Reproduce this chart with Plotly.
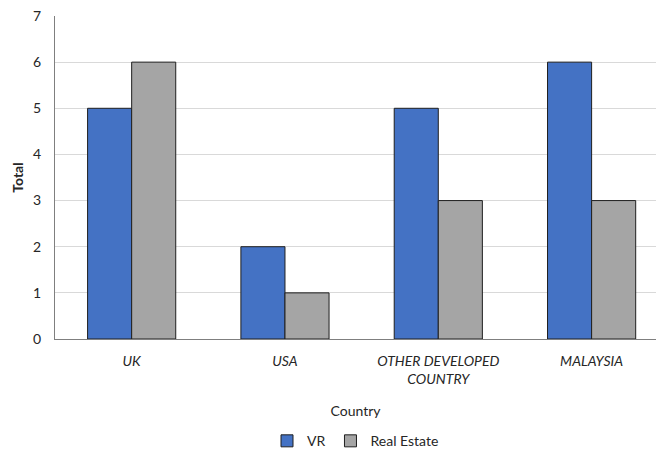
import plotly.graph_objects as go

categories = ["UK", "USA", "OTHER DEVELOPED<br>COUNTRY", "MALAYSIA"]
vr_values = [5, 2, 5, 6]
real_estate_values = [6, 1, 3, 3]

font_family = "Lato, 'Open Sans', sans-serif"

fig = go.Figure()
fig.add_trace(go.Bar(x=categories, y=vr_values, name="VR",
                     marker=dict(color="#4472C4", line=dict(color="#1f1f1f", width=1))))
fig.add_trace(go.Bar(x=categories, y=real_estate_values, name="Real Estate",
                     marker=dict(color="#A5A5A5", line=dict(color="#1f1f1f", width=1))))

fig.update_layout(
    width=656, height=454,
    margin=dict(l=55, r=0, t=16, b=115, autoexpand=False),
    paper_bgcolor="white", plot_bgcolor="white",
    barmode="group", bargap=0.425, bargroupgap=0,
    font=dict(family=font_family, size=14, color="#262626"),
    showlegend=True,
    legend=dict(orientation="h", x=0.5, xanchor="center", y=-0.267, yanchor="top",
                font=dict(size=14), itemwidth=30, tracegroupgap=0),
    xaxis=dict(
        range=[-0.5, 3.42],
        automargin=False,
        showline=True, linecolor="#7f7f7f", linewidth=1,
        tickfont=dict(size=14, style="italic"),
        ticks="outside", ticklen=9, tickcolor="rgba(0,0,0,0)",
        title=dict(text="Country", font=dict(size=14), standoff=20),
    ),
    yaxis=dict(
        range=[0, 7], dtick=1,
        automargin=False,
        showgrid=True, gridcolor="#d9d9d9", gridwidth=1,
        showline=True, linecolor="#7f7f7f", linewidth=1,
        zeroline=False,
        ticks="outside", ticklen=10, tickcolor="rgba(0,0,0,0)",
        tickfont=dict(size=14),
        title=dict(text="<b>Total</b>", font=dict(size=14), standoff=6),
    ),
)

fig.write_html("out.html")
